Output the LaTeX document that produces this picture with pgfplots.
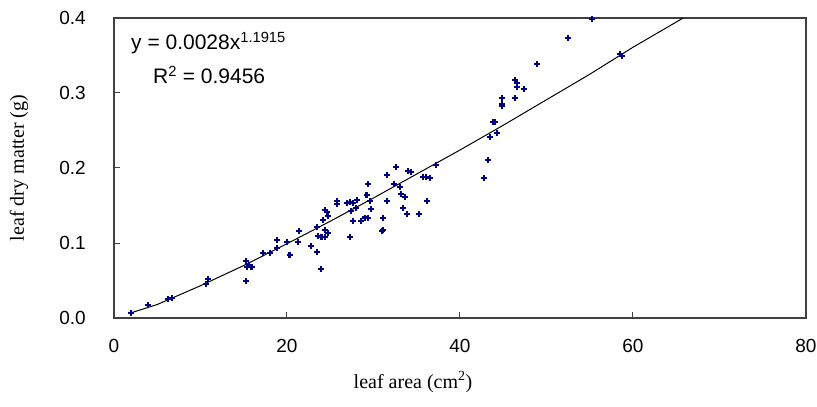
\documentclass[border=0pt]{standalone}
\usepackage{fontspec}
\setmainfont{Liberation Serif}
\newfontfamily\arial{Liberation Sans}
\usepackage{pgfplots}
\usepackage{pgfplotstable}
\pgfplotsset{compat=1.18}
\definecolor{navy}{HTML}{000080}

\pgfplotstableread{
x y
2.0 0.007
3.9 0.017
6.2 0.025
6.7 0.027
10.9 0.052
10.6 0.045
15.3 0.076
15.4 0.068
15.3 0.049
15.6 0.071
15.9 0.068
17.2 0.087
18.0 0.087
18.8 0.104
18.8 0.093
20.0 0.101
20.3 0.084
21.4 0.116
21.3 0.101
22.8 0.096
23.5 0.088
23.9 0.065
23.5 0.121
23.6 0.109
24.0 0.108
24.4 0.108
24.4 0.117
24.2 0.131
24.6 0.141
24.4 0.144
24.7 0.136
24.7 0.113
25.8 0.156
25.8 0.152
26.9 0.153
27.3 0.155
27.6 0.153
28.1 0.157
27.4 0.143
28.0 0.147
27.6 0.129
28.6 0.129
27.3 0.108
29.2 0.164
29.4 0.179
29.6 0.156
29.7 0.145
29.4 0.133
29.0 0.134
31.1 0.133
31.1 0.117
31.0 0.116
31.6 0.156
31.6 0.191
32.6 0.201
32.4 0.179
33.1 0.175
33.2 0.165
33.6 0.161
33.4 0.147
33.9 0.139
34.0 0.196
34.3 0.195
35.3 0.139
35.7 0.188
36.1 0.188
36.5 0.187
36.2 0.156
37.2 0.204
42.8 0.187
43.2 0.211
43.5 0.241
44.3 0.247
43.8 0.261
44.0 0.261
44.9 0.293
44.9 0.285
44.9 0.283
46.4 0.293
46.6 0.308
46.4 0.317
46.6 0.313
47.4 0.305
48.9 0.339
52.5 0.373
55.3 0.399
58.5 0.352
58.7 0.349
}\pts

\pgfplotstableread{
x y
2.0 0.007
5.0 0.018
10 0.043
15 0.070
20 0.099
25 0.129
30 0.160
35 0.192
40 0.224
45 0.257
50 0.291
55 0.325
60 0.361
65.8 0.400
}\fit

\begin{document}
\begin{tikzpicture}
\begin{axis}[
  at={(0,0)}, anchor=south west,
  scale only axis, width=692pt, height=300pt,
  xmin=0, xmax=80, ymin=0, ymax=0.4,
  xtick={0,20,40,60,80}, ytick={0,0.1,0.2,0.3,0.4},
  tick align=inside, xtick pos=bottom, ytick pos=left,
  major tick length=6pt,
  axis line style={draw=black!75, line width=1.3pt},
  every tick/.style={black!75, line width=1pt},
  /pgf/number format/assume math mode=true,
  yticklabel style={/pgf/number format/fixed, /pgf/number format/fixed zerofill, /pgf/number format/precision=1},
  ticklabel style={font=\arial\fontsize{19}{19}\selectfont, inner sep=0pt},
  yticklabel style={anchor=east, xshift=-28pt},
  xticklabel style={anchor=north, yshift=-21pt},
  xlabel={leaf area (cm\textsuperscript{2})},
  ylabel={leaf dry matter (g)},
  label style={font=\fontsize{20}{20}\selectfont},
  xlabel style={at={(axis description cs:0.5,0)}, anchor=center, yshift=-64pt, xshift=-47pt},
  ylabel style={at={(axis description cs:-0.1373,0.5)}, anchor=center},
  clip=false,
]
\addplot[black, line width=1pt] table[x=x,y=y] {\fit};
\addplot[only marks, mark=+, mark size=3pt, navy, every mark/.append style={line width=2.2pt}] table[x=x,y=y] {\pts};
\node[anchor=west, inner sep=0pt, font=\arial\fontsize{21}{21}\selectfont] at (rel axis cs:0,1) [xshift=17pt, yshift=-25pt] {y = 0.0028x\textsuperscript{1.1915}};
\node[anchor=west, inner sep=0pt, font=\arial\fontsize{21}{21}\selectfont] at (rel axis cs:0,1) [xshift=39pt, yshift=-57pt] {R\textsuperscript{2} = 0.9456};
\end{axis}
\pgfresetboundingbox
\path[use as bounding box] (-114pt,-89pt) rectangle (703pt,318pt);
\end{tikzpicture}
\end{document}
